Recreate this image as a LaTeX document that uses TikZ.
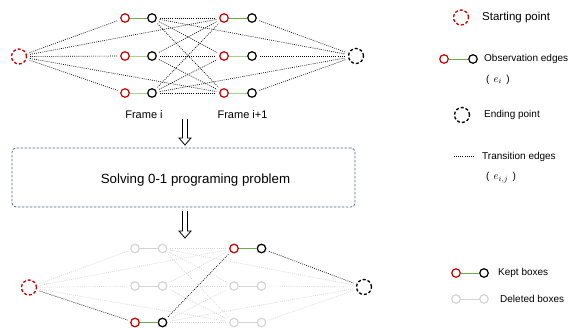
\documentclass[tikz,border=0pt]{standalone}
\usepackage{fontspec}
\setmainfont{Liberation Sans}
\definecolor{myred}{RGB}{204,0,0}
\definecolor{mygreen}{RGB}{112,173,71}
\definecolor{lgreen}{RGB}{169,209,142}
\definecolor{mygray}{RGB}{212,212,212}
\definecolor{boxc}{RGB}{72,104,145}
\begin{document}
\begin{tikzpicture}[x=1pt,y=-1pt,
  bigc/.style={circle, draw, minimum size=15pt, inner sep=0pt, line width=1.3pt, dash pattern=on 3pt off 2pt},
  sm/.style={circle, draw, minimum size=8.5pt, inner sep=0pt, line width=1.2pt},
  rn/.style={sm, draw=myred},
  bn/.style={sm, draw=black},
  gn/.style={sm, draw=mygray},
  trans/.style={line width=0.65pt, dash pattern=on 0.9pt off 1.2pt, shorten >=3pt, shorten <=3pt},
  tb/.style={trans, black},
  tg/.style={trans, mygray},
  obs/.style={line width=1pt},
  bigarrow/.style={line width=0.8pt, line join=miter},
  lab/.style={font=\fontsize{10}{12}\selectfont, anchor=west, inner sep=0pt},
  ]
\useasboundingbox (0,0) rectangle (570,327);

% ---------------- top graph ----------------
\node[bigc, draw=myred] (Ts) at (19,56.5) {};
\node[bigc, draw=black] (Te) at (356,56) {};
\foreach \r/\y in {1/18,2/56,3/93}{
  \node[rn] (Ta\r) at (125,\y) {};
  \node[bn] (Tb\r) at (152,\y) {};
  \node[rn] (Tc\r) at (224,\y) {};
  \node[bn] (Td\r) at (252,\y) {};
}
\draw[obs, mygreen] (Ta1) -- (Tb1);
\draw[obs, mygreen] (Tc1) -- (Td1);
\draw[obs, lgreen] (Ta2) -- (Tb2);
\draw[obs, lgreen] (Tc2) -- (Td2);
\draw[obs, lgreen] (Ta3) -- (Tb3);
\draw[obs, lgreen] (Tc3) -- (Td3);
\foreach \t in {Ta1,Ta2,Ta3,Tc1,Tc3}{ \draw[tb] (Ts) -- (\t); }
\foreach \i in {1,2,3}{ \foreach \j in {1,2,3}{ \draw[tb] (Tb\i) -- (Tc\j); } }
\foreach \t in {Td1,Td2,Td3,Tb1,Tb3}{ \draw[tb] (\t) -- (Te); }

\node[font=\fontsize{11}{13}\selectfont] (F1) at (144,115) {Frame i};
\node[font=\fontsize{11}{13}\selectfont] (F2) at (242.5,115) {Frame i+1};

% ---------------- arrows ----------------
\coordinate (A1t) at (185,119);
\coordinate (A1b) at (185,145);
\draw[bigarrow] ([xshift=-2.5pt]A1t) -- ([xshift=-2.5pt,yshift=7pt]A1b) -- ([xshift=-6pt,yshift=7pt]A1b) -- (A1b) -- ([xshift=6pt,yshift=7pt]A1b) -- ([xshift=2.5pt,yshift=7pt]A1b) -- ([xshift=2.5pt]A1t);
\coordinate (A2t) at (185,211);
\coordinate (A2b) at (185,238);
\draw[bigarrow] ([xshift=-2.5pt]A2t) -- ([xshift=-2.5pt,yshift=7pt]A2b) -- ([xshift=-6pt,yshift=7pt]A2b) -- (A2b) -- ([xshift=6pt,yshift=7pt]A2b) -- ([xshift=2.5pt,yshift=7pt]A2b) -- ([xshift=2.5pt]A2t);

% ---------------- box ----------------
\node[draw=boxc, line width=0.8pt, dash pattern=on 2.5pt off 1.5pt, rounded corners=4pt,
      minimum width=343pt, minimum height=59pt, inner sep=0pt] (box) at (183.5,177.5) {};
\node[font=\fontsize{13.3}{15}\selectfont] (boxtext) at (195.5,180) {Solving 0-1 programing problem};

% ---------------- bottom graph ----------------
\node[bigc, draw=myred] (Bs) at (29,287.5) {};
\node[bigc, draw=black] (Be) at (364,287) {};
\foreach \r/\y in {1/248.5,2/286,3/322.5}{
  \node[gn] (Ba\r) at (135,\y) {};
  \node[gn] (Bb\r) at (162.5,\y) {};
  \node[gn] (Bc\r) at (234,\y) {};
  \node[gn] (Bd\r) at (261.5,\y) {};
}
% kept nodes redrawn
\node[rn] at (Ba3) {};
\node[bn] at (Bb3) {};
\node[rn] at (Bc1) {};
\node[bn] at (Bd1) {};
\draw[obs, mygray] (Ba1) -- (Bb1);
\draw[obs, mygray] (Ba2) -- (Bb2);
\draw[obs, mygray] (Bc2) -- (Bd2);
\draw[obs, mygray] (Bc3) -- (Bd3);
\draw[obs, mygreen] (Ba3) -- (Bb3);
\draw[obs, mygreen] (Bc1) -- (Bd1);
\foreach \t in {Ba1,Ba2,Bc1,Bc3}{ \draw[tg] (Bs) -- (\t); }
\draw[tb] (Bs) -- (Ba3);
\foreach \i/\j in {1/1,1/2,1/3,2/1,2/2,2/3,3/2,3/3}{ \draw[tg] (Bb\i) -- (Bc\j); }
\draw[tb] (Bb3) -- (Bc1);
\foreach \t in {Bd2,Bd3,Bb1,Bb3}{ \draw[tg] (\t) -- (Be); }
\draw[tb] (Bd1) -- (Be);

% ---------------- legend ----------------
\node[bigc, draw=myred] (Ls) at (461,17.5) {};
\node[lab, font=\fontsize{11.5}{13}\selectfont] (Lst) at (482,17.5) {Starting point};

\node[rn] (Lor) at (444,59) {};
\node[bn] (Lob) at (473,59) {};
\draw[obs, mygreen] (Lor) -- (Lob);
\node[lab] (Lot) at (484,59) {Observation edges};
\node[lab] (Loe) at (486,79.5) {(\hspace{0.4em}\fontsize{11}{12}\selectfont$e_i$\hspace{0.4em}\fontsize{10}{12}\selectfont)};

\node[bigc, draw=black] (Le) at (462,115) {};
\node[lab] (Let) at (484,115) {Ending point};

\coordinate (Ltl) at (454,156.5);
\coordinate (Ltr) at (474,156.5);
\draw[line width=0.65pt, dash pattern=on 0.9pt off 1.2pt] (Ltl) -- (Ltr);
\node[lab] (Ltt) at (482,156.5) {Transition edges};
\node[lab] (Lte) at (486,177.5) {(\hspace{0.4em}\fontsize{11}{12}\selectfont$e_{i,j}$\hspace{0.4em}\fontsize{10}{12}\selectfont)};

\node[rn] (Lkr) at (456,273) {};
\node[bn] (Lkb) at (484,273) {};
\draw[obs, mygreen] (Lkr) -- (Lkb);
\node[lab] (Lkt) at (498,273) {Kept boxes};

\node[gn] (Ldr) at (456,299) {};
\node[gn] (Ldb) at (484,299) {};
\draw[obs, mygray] (Ldr) -- (Ldb);
\node[lab] (Ldt) at (500,299) {Deleted boxes};
\end{tikzpicture}
\end{document}
